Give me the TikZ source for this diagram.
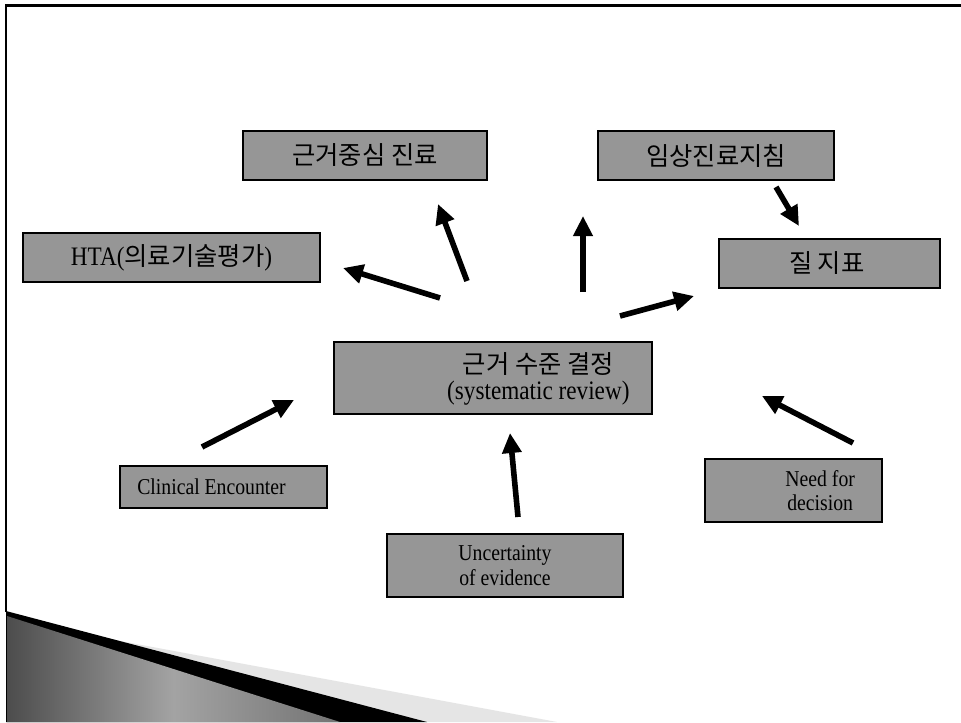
\documentclass[tikz,border=0pt]{standalone}
\usepackage{fontspec}
\setmainfont{Liberation Serif}
\newfontfamily\kr{Noto Sans CJK KR}
\newfontfamily\cond[FakeStretch=0.87]{Liberation Serif}
\usetikzlibrary{arrows.meta}
\definecolor{boxgray}{HTML}{969696}
\begin{document}
\begin{tikzpicture}[x=0.75pt,y=-0.75pt,
  box/.style={draw=black, line width=1.8pt, fill=boxgray, inner sep=0pt},
  krtext/.style={font=\kr\fontsize{19}{22}\selectfont},
  entext/.style={font=\cond\fontsize{17}{18.5}\selectfont, align=center},
  arr/.style={line width=4.2pt, -{Triangle[length=15pt,width=14pt]}}]
\useasboundingbox (0,0) rectangle (961,722);
\fill[white] (0,0) rectangle (961,722);
% bottom-left wedge
\fill[black!10] (6,612) -- (77,633) -- (557,722) -- (6,722) -- cycle;
\fill[black] (6,611) -- (427,722) -- (6,722) -- cycle;
\shade[left color=black!70, right color=black!55, middle color=black!36] (7,616) -- (340,722) -- (7,722) -- cycle;
% frame
\draw[line width=2.2pt] (6,612) -- (6,5.5) -- (961,5.5);
% boxes
\node[box, krtext, minimum width=183pt, minimum height=36.75pt] (ebm) at (365,155.5) {근거중심 진료};
\node[box, krtext, minimum width=177pt, minimum height=36.75pt] (cpg) at (716,155.5) {임상진료지침};
\node[box, minimum width=165.75pt, minimum height=36.75pt,
  label={[krtext, xshift=-2pt]center:질 지표}] (qi) at (829.5,263.5) {};
\node[box, minimum width=222.75pt, minimum height=36.75pt,
  font=\cond\fontsize{20}{22}\selectfont] (hta) at (171.5,257.5) {HTA({\kr\fontsize{19}{22}\selectfont 의료기술평가})};
\node[box, minimum width=238.5pt, minimum height=54pt,
  label={[align=center, xshift=34pt, yshift=-1pt, font=\cond\fontsize{20}{19.5}\selectfont]center:{\kr\fontsize{19}{19.5}\selectfont 근거 수준 결정}\\(systematic review)}] (lev) at (493,378) {};
\node[box, minimum width=155.25pt, minimum height=31.5pt,
  label={[entext, xshift=-9pt]center:Clinical Encounter}] (ce) at (223.5,487) {};
\node[box, entext, minimum width=177pt, minimum height=47.25pt] (unc) at (505,565.5) {Uncertainty\\of evidence};
\node[box, minimum width=132.75pt, minimum height=47.25pt,
  label={[entext, xshift=20pt]center:Need for\\decision}] (need) at (793.5,490.5) {};
% arrow end points
\coordinate (hS) at (440,298); \coordinate (hE) at (343,268);
\coordinate (eS) at (467,281); \coordinate (eE) at (438,204);
\coordinate (cS) at (583,292); \coordinate (cE) at (583,216);
\coordinate (gS) at (776,187); \coordinate (gE) at (799,226);
\coordinate (qS) at (620,316); \coordinate (qE) at (694,296);
\coordinate (ceS) at (202,447); \coordinate (ceE) at (294,400);
\coordinate (uS) at (518,517); \coordinate (uE) at (510,433);
\coordinate (nS) at (853,443); \coordinate (nE) at (762,396);
\draw[arr] (hS) -- (hE);
\draw[arr] (eS) -- (eE);
\draw[arr] (cS) -- (cE);
\draw[arr] (gS) -- (gE);
\draw[arr] (qS) -- (qE);
\draw[arr] (ceS) -- (ceE);
\draw[arr] (uS) -- (uE);
\draw[arr] (nS) -- (nE);
\end{tikzpicture}
\end{document}
